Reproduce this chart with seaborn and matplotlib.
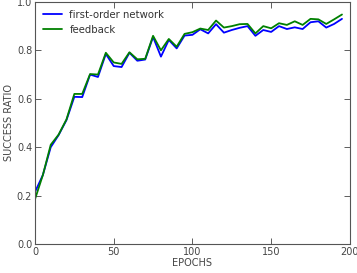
import numpy as np
import pandas as pd
import matplotlib
matplotlib.use("Agg")
import matplotlib.pyplot as plt
import seaborn as sns

epochs = list(range(0, 200, 5))
first_order = [0.215, 0.285, 0.400, 0.450, 0.512, 0.608, 0.607, 0.700, 0.690, 0.785,
               0.735, 0.731, 0.790, 0.757, 0.762, 0.855, 0.774, 0.843, 0.808, 0.861,
               0.864, 0.887, 0.870, 0.908, 0.873, 0.884, 0.893, 0.900, 0.860, 0.884,
               0.876, 0.900, 0.888, 0.895, 0.888, 0.916, 0.920, 0.894, 0.909, 0.930]
feedback = [0.185, 0.285, 0.410, 0.452, 0.515, 0.620, 0.620, 0.702, 0.700, 0.790,
            0.750, 0.744, 0.792, 0.763, 0.765, 0.860, 0.800, 0.847, 0.815, 0.868,
            0.875, 0.890, 0.884, 0.923, 0.894, 0.900, 0.908, 0.909, 0.870, 0.900,
            0.891, 0.912, 0.905, 0.920, 0.905, 0.930, 0.928, 0.909, 0.928, 0.948]
series_names = ["first-order network", "feedback"]
colors = ["#0000ff", "#008000"]

df = pd.DataFrame({
    "EPOCHS": epochs * 2,
    "SUCCESS RATIO": first_order + feedback,
    "series": [series_names[0]] * len(epochs) + [series_names[1]] * len(epochs),
})

sns.set_style("ticks")
plt.rcParams["font.family"] = ["DejaVu Sans"]

fig = plt.figure(figsize=(3.57, 2.73), dpi=100)
ax = fig.add_axes([0.098, 0.106, 0.882, 0.887])
sns.lineplot(data=df, x="EPOCHS", y="SUCCESS RATIO", hue="series",
             palette=dict(zip(series_names, colors)), linewidth=1.3, ax=ax)

ax.set_xlim(0, 200)
ax.set_ylim(0, 1.0)
ax.set_xticks([0, 50, 100, 150, 200])
ax.set_yticks([0.0, 0.2, 0.4, 0.6, 0.8, 1.0])
ax.set_yticklabels(["0.0", "0.2", "0.4", "0.6", "0.8", "1.0"])
ax.tick_params(direction="in", top=True, right=True, labelsize=7, colors="#444444",
               length=4, width=0.6, pad=2)
for s in ax.spines.values():
    s.set_color("#555555")
    s.set_linewidth(0.8)
ax.set_xlabel("EPOCHS", fontsize=7, color="#444444", labelpad=1)
ax.set_ylabel("SUCCESS RATIO", fontsize=7, color="#444444", labelpad=2)
ax.legend(title=None, frameon=False, loc="upper left", fontsize=7.3,
          handlelength=1.9, handletextpad=0.7, borderaxespad=0.4, borderpad=0.4,
          labelspacing=0.45, labelcolor="#333333")

fig.savefig("out.png", dpi=100)
